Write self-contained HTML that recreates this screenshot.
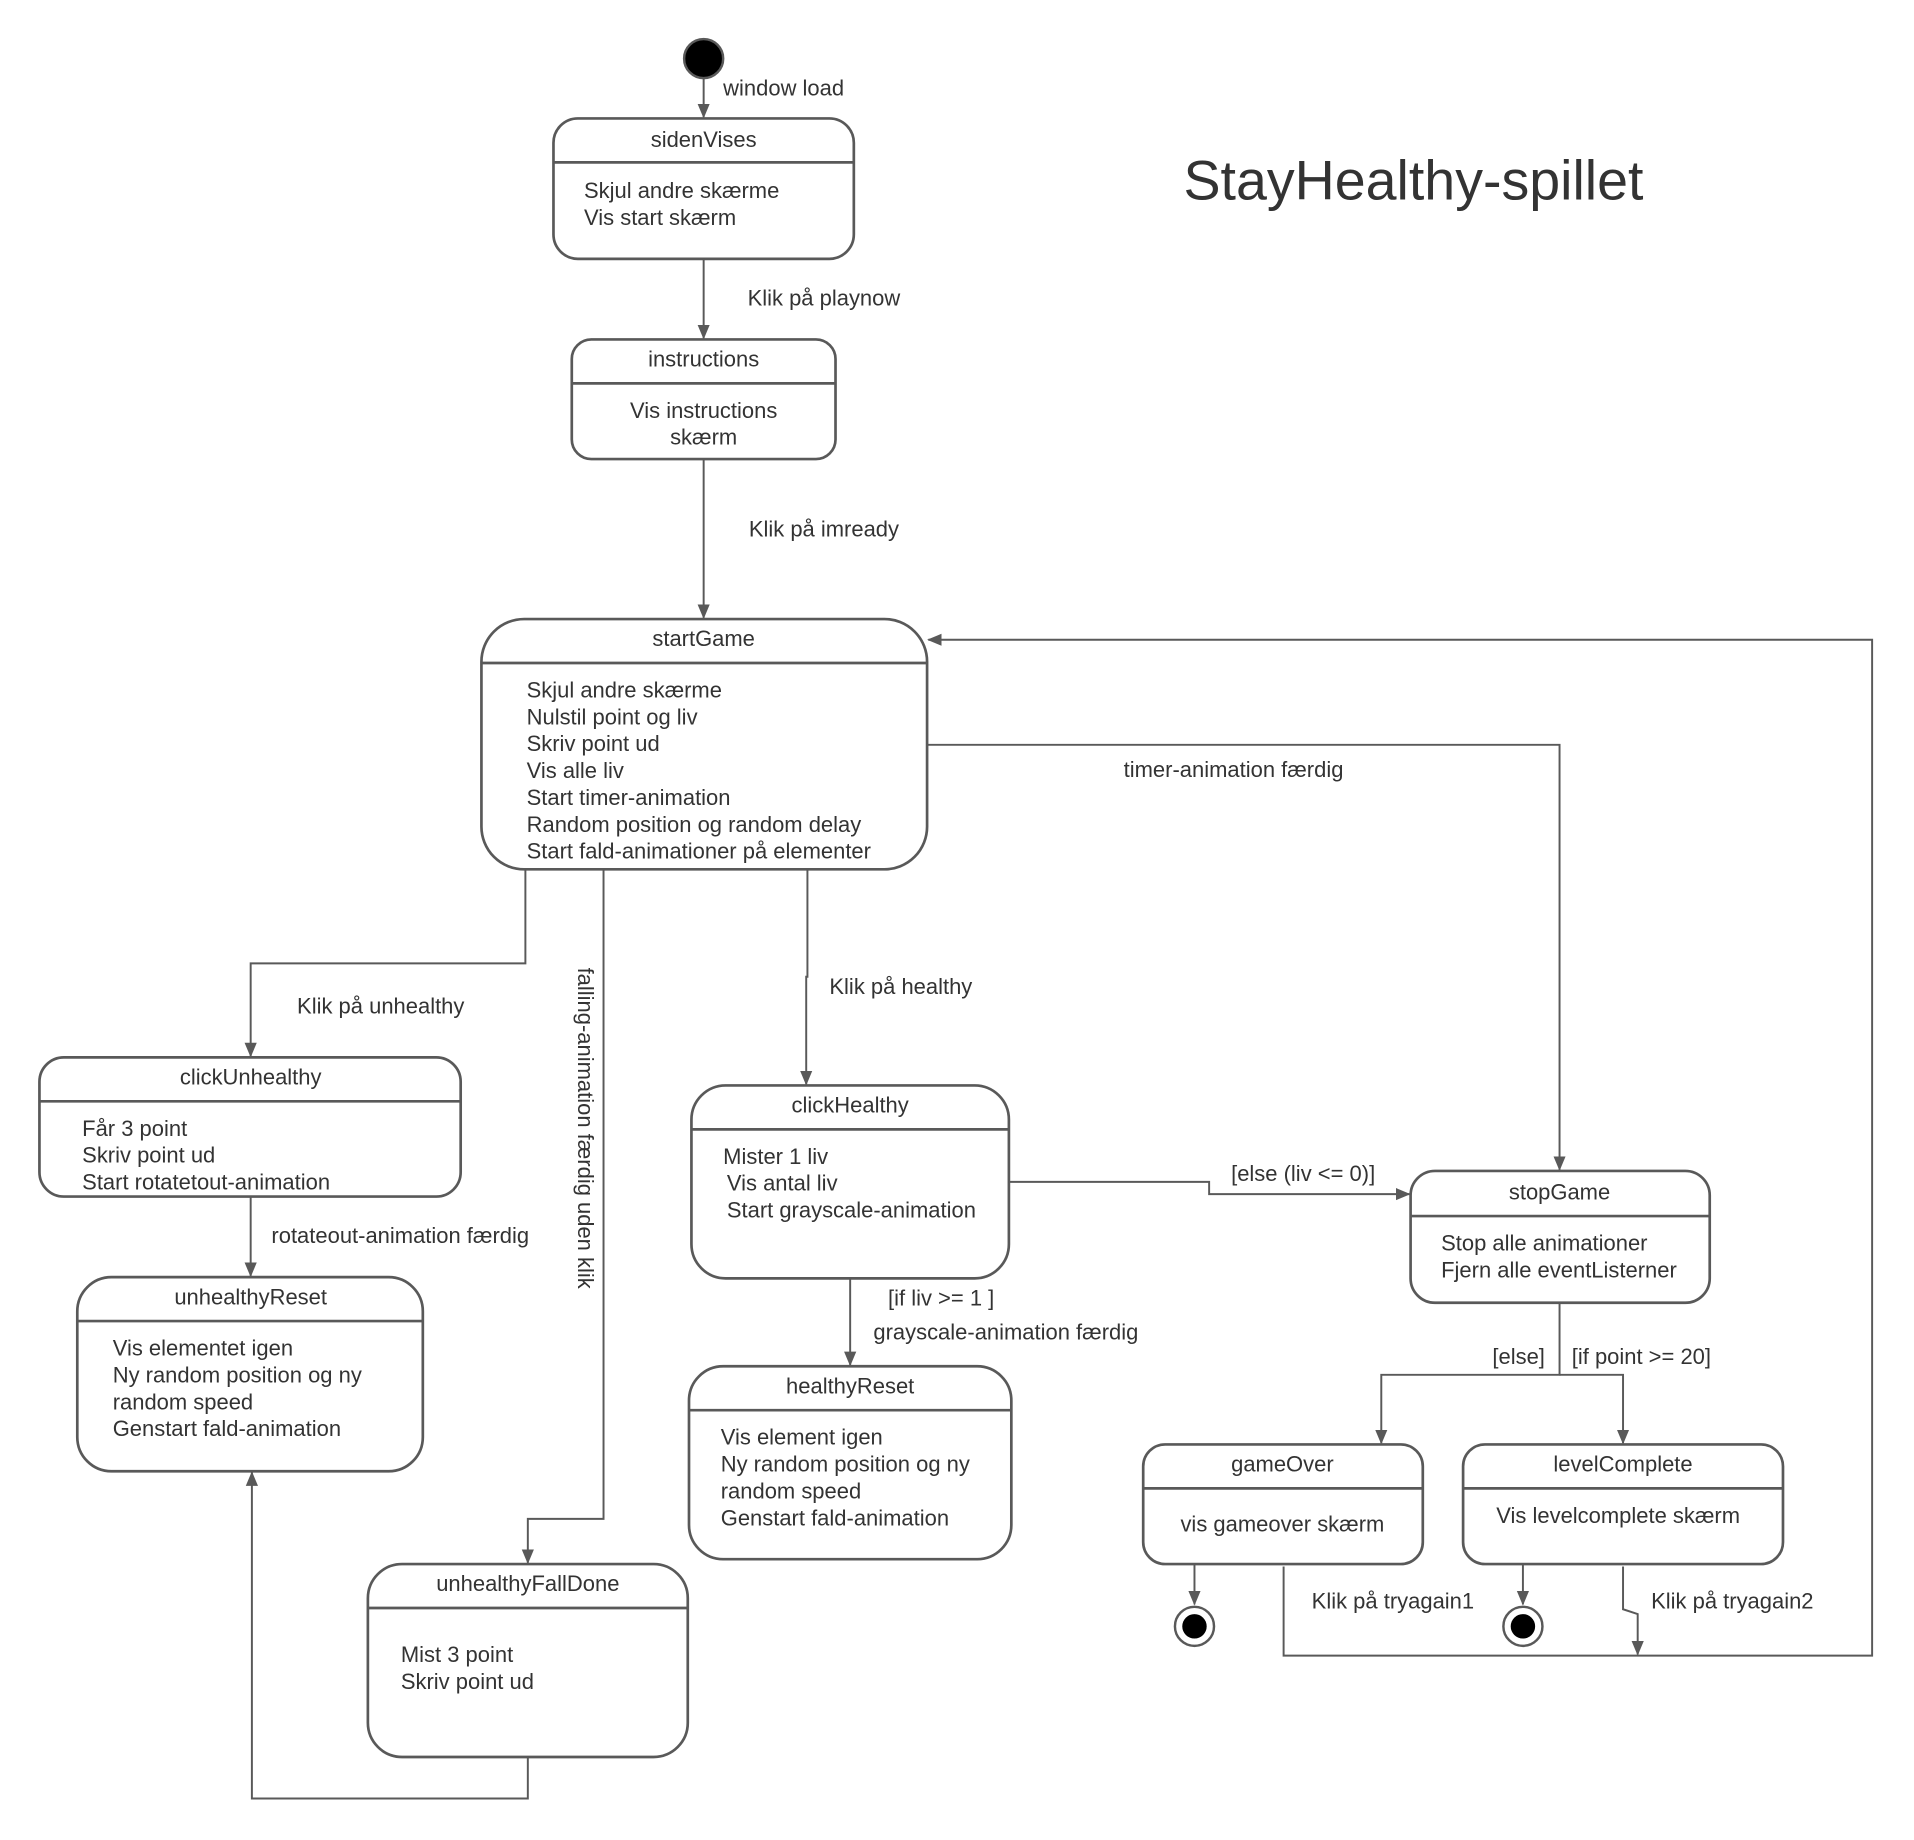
<!DOCTYPE html>
<html><head><meta charset="utf-8"><style>
html,body{margin:0;padding:0;background:#fff;}
svg{display:block;}
text{font-family:"Liberation Sans",Arial,sans-serif;font-size:18px;fill:#333;dominant-baseline:middle;}
text:not(.r){transform:translateY(1.5px);}
.c{text-anchor:middle;}
.b{fill:#fff;stroke:#595959;stroke-width:2.2;}
.l{fill:none;stroke:#595959;stroke-width:1.6;}
</style></head><body>
<svg width="1914" height="1840" viewBox="0 0 1567 1507" xmlns="http://www.w3.org/2000/svg">
<defs><marker id="a" markerWidth="12" markerHeight="12" refX="11" refY="6" orient="auto" markerUnits="userSpaceOnUse"><path d="M0,1 L12,6 L0,11 z" fill="#595959"/></marker></defs>

<text x="969" y="150" style="font-size:45.5px">StayHealthy-spillet</text>

<circle cx="576" cy="48" r="16" fill="#000" stroke="#595959" stroke-width="2"/>
<path class="l" d="M576 64 V96" marker-end="url(#a)"/>
<text x="592" y="72">window load</text>

<rect class="b" x="453" y="97" width="246" height="115" rx="20"/>
<line class="b" x1="453" y1="133" x2="699" y2="133"/>
<text class="c" x="576" y="114">sidenVises</text>
<text x="478" y="156">Skjul andre skærme</text>
<text x="478" y="178">Vis start skærm</text>

<path class="l" d="M576 212 V277" marker-end="url(#a)"/>
<text x="612" y="244">Klik på playnow</text>

<rect class="b" x="468" y="278" width="216" height="98" rx="16"/>
<line class="b" x1="468" y1="314" x2="684" y2="314"/>
<text class="c" x="576" y="294">instructions</text>
<text class="c" x="576" y="336">Vis instructions</text>
<text class="c" x="576" y="358">skærm</text>

<path class="l" d="M576 376 V506" marker-end="url(#a)"/>
<text x="613" y="433">Klik på imready</text>

<rect class="b" x="394" y="507" width="365" height="205" rx="35"/>
<line class="b" x1="394" y1="543" x2="759" y2="543"/>
<text class="c" x="576" y="523">startGame</text>
<text x="431" y="565">Skjul andre skærme</text>
<text x="431" y="587">Nulstil point og liv</text>
<text x="431" y="609">Skriv point ud</text>
<text x="431" y="631">Vis alle liv</text>
<text x="431" y="653">Start timer-animation</text>
<text x="431" y="675">Random position og random delay</text>
<text x="431" y="697">Start fald-animationer på elementer</text>

<path class="l" d="M1051 1283 V1356 H1533 V524 H760" marker-end="url(#a)"/>
<path class="l" d="M1329 1283 V1318 L1341 1322 V1355" marker-end="url(#a)"/>
<text x="1074" y="1311">Klik på tryagain1</text>
<text x="1352" y="1311">Klik på tryagain2</text>

<path class="l" d="M759 610 H1277 V958" marker-end="url(#a)"/>
<text x="920" y="630">timer-animation færdig</text>

<path class="l" d="M430 712 V789 H205 V865" marker-end="url(#a)"/>
<text x="243" y="824">Klik på unhealthy</text>

<path class="l" d="M494 712 V1244 H432 V1280" marker-end="url(#a)"/>
<text x="478" y="924" class="c r" transform="rotate(90 478 924)">falling-animation færdig uden klik</text>

<path class="l" d="M661 712 V800 H660 V888" marker-end="url(#a)"/>
<text x="679" y="808">Klik på healthy</text>

<rect class="b" x="32" y="866" width="345" height="114" rx="20"/>
<line class="b" x1="32" y1="902" x2="377" y2="902"/>
<text class="c" x="205" y="882">clickUnhealthy</text>
<text x="67" y="924">Får 3 point</text>
<text x="67" y="946">Skriv point ud</text>
<text x="67" y="968">Start rotatetout-animation</text>

<path class="l" d="M205 980 V1045" marker-end="url(#a)"/>
<text x="222" y="1012">rotateout-animation færdig</text>

<rect class="b" x="63" y="1046" width="283" height="159" rx="28"/>
<line class="b" x1="63" y1="1082" x2="346" y2="1082"/>
<text class="c" x="205" y="1062">unhealthyReset</text>
<text x="92" y="1104">Vis elementet igen</text>
<text x="92" y="1126">Ny random position og ny</text>
<text x="92" y="1148">random speed</text>
<text x="92" y="1170">Genstart fald-animation</text>

<rect class="b" x="301" y="1281" width="262" height="158" rx="28"/>
<line class="b" x1="301" y1="1317" x2="563" y2="1317"/>
<text class="c" x="432" y="1297">unhealthyFallDone</text>
<text x="328" y="1355">Mist 3 point</text>
<text x="328" y="1377">Skriv point ud</text>

<path class="l" d="M432 1439 V1473 H206 V1206" marker-end="url(#a)"/>

<rect class="b" x="566" y="889" width="260" height="158" rx="28"/>
<line class="b" x1="566" y1="925" x2="826" y2="925"/>
<text class="c" x="696" y="905">clickHealthy</text>
<text x="592" y="947">Mister 1 liv</text>
<text x="595" y="969">Vis antal liv</text>
<text x="595" y="991">Start grayscale-animation</text>

<path class="l" d="M826 968 H990 V978 H1154" marker-end="url(#a)"/>
<text x="1008" y="961">[else (liv &lt;= 0)]</text>

<path class="l" d="M696 1047 V1118" marker-end="url(#a)"/>
<text x="727" y="1063">[if liv &gt;= 1 ]</text>
<text x="715" y="1091">grayscale-animation færdig</text>

<rect class="b" x="564" y="1119" width="264" height="158" rx="28"/>
<line class="b" x1="564" y1="1155" x2="828" y2="1155"/>
<text class="c" x="696" y="1135">healthyReset</text>
<text x="590" y="1177">Vis element igen</text>
<text x="590" y="1199">Ny random position og ny</text>
<text x="590" y="1221">random speed</text>
<text x="590" y="1243">Genstart fald-animation</text>

<rect class="b" x="1155" y="959" width="245" height="108" rx="20"/>
<line class="b" x1="1155" y1="996" x2="1400" y2="996"/>
<text class="c" x="1277" y="976">stopGame</text>
<text x="1180" y="1018">Stop alle animationer</text>
<text x="1180" y="1040">Fjern alle eventListerner</text>

<path class="l" d="M1277 1067 V1126 H1131 V1182" marker-end="url(#a)"/>
<path class="l" d="M1277 1126 H1329 V1182" marker-end="url(#a)"/>
<text x="1222" y="1111">[else]</text>
<text x="1287" y="1111">[if point &gt;= 20]</text>

<rect class="b" x="936" y="1183" width="229" height="98" rx="18"/>
<line class="b" x1="936" y1="1219" x2="1165" y2="1219"/>
<text class="c" x="1050" y="1199">gameOver</text>
<text class="c" x="1050" y="1248">vis gameover skærm</text>

<rect class="b" x="1198" y="1183" width="262" height="98" rx="18"/>
<line class="b" x1="1198" y1="1219" x2="1460" y2="1219"/>
<text class="c" x="1329" y="1199">levelComplete</text>
<text class="c" x="1325" y="1241">Vis levelcomplete skærm</text>

<path class="l" d="M978 1281 V1314" marker-end="url(#a)"/>
<circle cx="978" cy="1332" r="16" fill="#fff" stroke="#595959" stroke-width="2"/>
<circle cx="978" cy="1332" r="10" fill="#000"/>
<path class="l" d="M1247 1281 V1314" marker-end="url(#a)"/>
<circle cx="1247" cy="1332" r="16" fill="#fff" stroke="#595959" stroke-width="2"/>
<circle cx="1247" cy="1332" r="10" fill="#000"/>
</svg>
</body></html>
